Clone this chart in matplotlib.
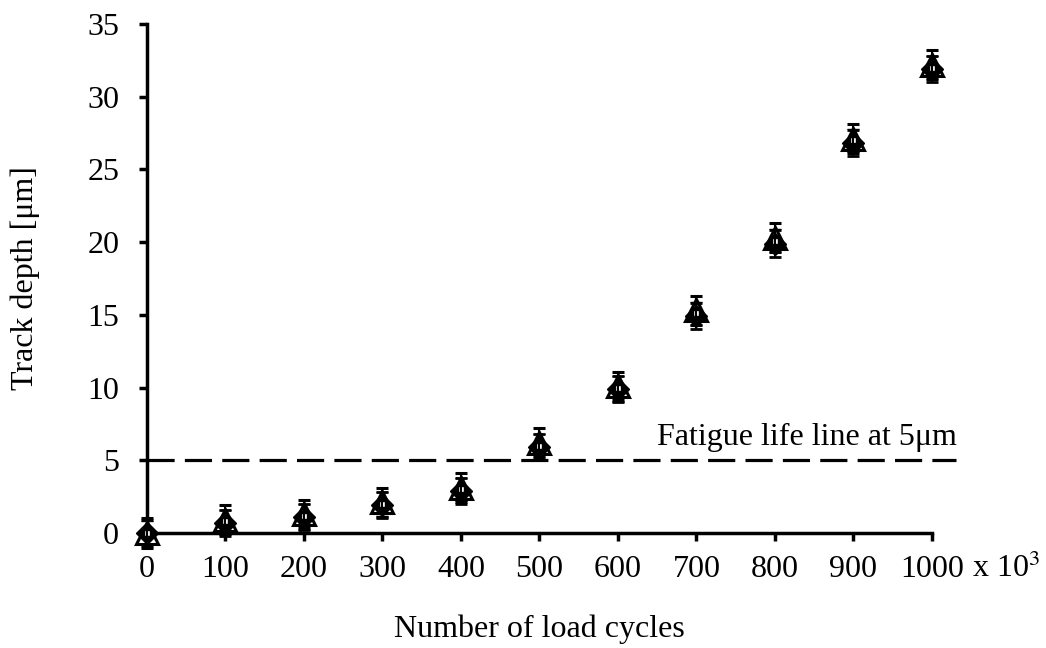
import numpy as np
import matplotlib
matplotlib.use('Agg')
import matplotlib.pyplot as plt

plt.rcParams['font.family'] = ['Liberation Serif', 'DejaVu Serif']
plt.rcParams['mathtext.fontset'] = 'stix'

# load cycles (x 10^3)
cycles = [0, 100, 200, 300, 400, 500, 600, 700, 800, 900, 1000]

# track depth of three overlapping samples [um]
depth_tri = [0.0, 0.9, 1.3, 2.1, 3.1, 6.2, 10.1, 15.3, 20.3, 27.1, 32.2]
depth_dia = [0.0, 0.7, 1.1, 1.9, 2.9, 5.9, 9.9, 14.9, 19.9, 26.8, 31.9]
depth_sq = [0.0, 0.8, 1.2, 2.0, 3.0, 6.0, 10.0, 15.1, 20.1, 27.0, 32.0]

err_tri = [1.0, 1.0, 1.0, 1.0, 1.0, 1.0, 1.0, 1.0, 1.0, 1.0, 1.0]
err_dia = [0.9, 0.9, 0.9, 0.9, 0.9, 0.9, 0.9, 0.9, 0.9, 0.9, 0.9]
err_sq = [0.8, 0.8, 0.8, 0.8, 0.8, 0.8, 0.8, 0.8, 0.8, 0.8, 0.8]

fatigue_limit = 5

FS = 23

fig = plt.figure(figsize=(10.46, 6.48), dpi=100)
ax = fig.add_axes([0.1405, 0.1775, 0.7505, 0.7855])

ax.errorbar(cycles, depth_dia, yerr=err_dia, fmt='D', color='black', ms=11,
            capsize=4.5, capthick=2, elinewidth=1.5, clip_on=False, zorder=3)
ax.errorbar(cycles, depth_sq, yerr=err_sq, fmt='s', color='black', ms=4,
            mfc='white', mew=1, capsize=4.5, capthick=2, elinewidth=1.5,
            clip_on=False, zorder=4)
ax.errorbar(cycles, depth_tri, yerr=err_tri, fmt='^', color='black', ms=16,
            mfc='none', mew=2.2, capsize=4.5, capthick=2, elinewidth=1.5,
            clip_on=False, zorder=5)

# fatigue life line
ax.plot([0, 1030], [fatigue_limit, fatigue_limit], color='black', lw=2.3,
        dashes=(8.5, 3.2), clip_on=False, zorder=2)
ax.text(1032, 6.6, 'Fatigue life line at 5\u03bcm', fontsize=FS,
        ha='right', va='center')

ax.set_xlim(0, 1000)
ax.set_ylim(0, 35)
ax.set_xticks(range(0, 1001, 100))
ax.set_yticks(range(0, 36, 5))

for s in ['top', 'right']:
    ax.spines[s].set_visible(False)
for s in ['left', 'bottom']:
    ax.spines[s].set_linewidth(2.5)

ax.tick_params(axis='both', direction='out', length=6, width=2.5,
               labelsize=FS, colors='black')
ax.tick_params(axis='x', pad=10)
ax.tick_params(axis='y', pad=14)

ax.set_ylabel('Track depth [\u03bcm]', fontsize=FS, labelpad=34)
ax.set_xlabel('Number of load cycles', fontsize=FS, labelpad=22)
ax.text(1.051, -0.0864, 'x 10$^3$', transform=ax.transAxes, fontsize=FS,
        ha='left', va='baseline')

fig.savefig('out.png', dpi=100)
